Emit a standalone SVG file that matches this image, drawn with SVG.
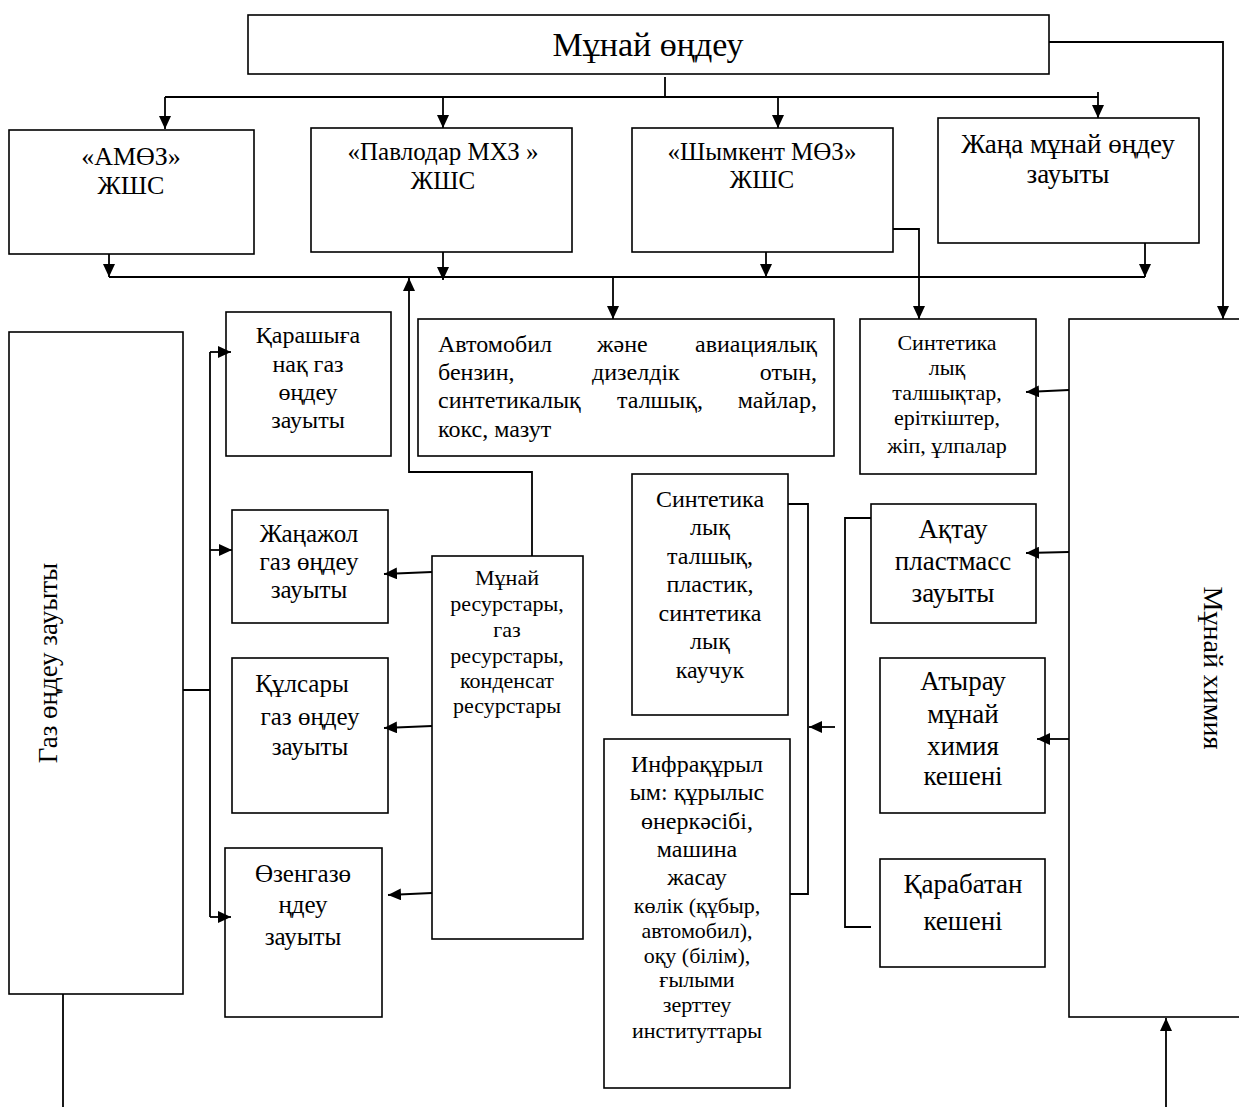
<svg xmlns="http://www.w3.org/2000/svg" width="1239" height="1107" viewBox="0 0 1239 1107">
<defs>
<marker id="ah" viewBox="0 0 13 12" refX="13" refY="6" markerWidth="13" markerHeight="12" markerUnits="userSpaceOnUse" orient="auto"><path d="M0,0 L13,6 L0,12 z" fill="#000"/></marker>
<style>
.box{fill:#fff;stroke:#000;stroke-width:1.6}
.ln{fill:none;stroke:#000;stroke-width:1.8}
.ar{fill:none;stroke:#000;stroke-width:1.8;marker-end:url(#ah)}
text{font-family:"Liberation Serif","Times New Roman",serif;fill:#000}
.c{text-anchor:middle}
.f24{font-size:24px}
.f25{font-size:25px}
.f22{font-size:22px}
.f26{font-size:26px}
.f27{font-size:27px}
</style>
</defs>
<rect width="1239" height="1107" fill="#fff"/>

<g id="n-top"><rect class="box" x="248" y="15" width="801" height="59"/>
<text class="c" x="648" y="56" font-size="34">Мұнай өңдеу</text></g>

<g id="n-amoz"><rect class="box" x="9" y="130" width="245" height="124"/>
<text class="c f26" x="131" y="165">«АМӨЗ»</text>
<text class="c f26" x="131" y="194">ЖШС</text></g>

<g id="n-pavlodar"><rect class="box" x="311" y="128" width="261" height="124"/>
<text class="c f25" x="443" y="160">«Павлодар МХЗ »</text>
<text class="c f25" x="443" y="189">ЖШС</text></g>

<g id="n-shymkent"><rect class="box" x="632" y="128" width="261" height="124"/>
<text class="c f25" x="762" y="160">«Шымкент МӨЗ»</text>
<text class="c f25" x="762" y="188">ЖШС</text></g>

<g id="n-zhana"><rect class="box" x="938" y="118" width="261" height="125"/>
<text class="c f27" x="1068" y="153">Жаңа мұнай өңдеу</text>
<text class="c f27" x="1068" y="183">зауыты</text></g>

<g id="n-avto"><rect class="box" x="418" y="319" width="416" height="137"/>
<text class="f24" x="438" y="352">Автомобил</text>
<text class="f24" x="597" y="352">және</text>
<text class="f24" x="817" y="352" text-anchor="end">авиациялық</text>
<text class="f24" x="438" y="380">бензин,</text>
<text class="f24" x="592" y="380">дизелдік</text>
<text class="f24" x="817" y="380" text-anchor="end">отын,</text>
<text class="f24" x="438" y="408">синтетикалық</text>
<text class="f24" x="617" y="408">талшық,</text>
<text class="f24" x="817" y="408" text-anchor="end">майлар,</text>
<text class="f24" x="438" y="437">кокс, мазут</text></g>

<g id="n-sint1"><rect class="box" x="860" y="319" width="176" height="155"/>
<text class="c f22" x="947" y="350">Синтетика</text>
<text class="c f22" x="947" y="375">лық</text>
<text class="c f22" x="947" y="400">талшықтар,</text>
<text class="c f22" x="947" y="425">еріткіштер,</text>
<text class="c f22" x="947" y="453">жіп, ұлпалар</text></g>

<g id="n-himiya"><rect class="box" x="1069" y="319" width="180" height="698"/>
<text class="c" font-size="28" transform="translate(1204,668) rotate(90)">Мұнай химия</text></g>

<g id="n-gaz"><rect class="box" x="9" y="332" width="174" height="662"/>
<text class="c f27" transform="translate(57,663) rotate(-90)">Газ өңдеу зауыты</text></g>

<g id="n-karash"><rect class="box" x="226" y="312" width="165" height="144"/>
<text class="c f24" x="308" y="343">Қарашыға</text>
<text class="c f24" x="308" y="372">нақ газ</text>
<text class="c f24" x="308" y="400">өңдеу</text>
<text class="c f24" x="308" y="428">зауыты</text></g>

<g id="n-zhanazhol"><rect class="box" x="232" y="510" width="156" height="113"/>
<text class="c f25" x="309" y="542">Жаңажол</text>
<text class="c f25" x="309" y="570">газ өңдеу</text>
<text class="c f25" x="309" y="598">зауыты</text></g>

<g id="n-kulsary"><rect class="box" x="232" y="658" width="156" height="155"/>
<text class="c f25" x="302" y="692">Құлсары</text>
<text class="c f25" x="310" y="725">газ өңдеу</text>
<text class="c f25" x="310" y="755">зауыты</text></g>

<g id="n-ozen"><rect class="box" x="225" y="848" width="157" height="169"/>
<text class="c f25" x="303" y="882">Өзенгазө</text>
<text class="c f25" x="303" y="913">ңдеу</text>
<text class="c f25" x="303" y="945">зауыты</text></g>

<g id="n-resurs"><rect class="box" x="432" y="556" width="151" height="383"/>
<text class="c f22" x="507" y="585">Мұнай</text>
<text class="c f22" x="507" y="611">ресурстары,</text>
<text class="c f22" x="507" y="637">газ</text>
<text class="c f22" x="507" y="663">ресурстары,</text>
<text class="c f22" x="507" y="688">конденсат</text>
<text class="c f22" x="507" y="713">ресурстары</text></g>

<g id="n-sint2"><rect class="box" x="632" y="474" width="156" height="241"/>
<text class="c f24" x="710" y="507">Синтетика</text>
<text class="c f24" x="710" y="535">лық</text>
<text class="c f24" x="710" y="564">талшық,</text>
<text class="c f24" x="710" y="592">пластик,</text>
<text class="c f24" x="710" y="621">синтетика</text>
<text class="c f24" x="710" y="649">лық</text>
<text class="c f24" x="710" y="678">каучук</text></g>

<g id="n-infra"><rect class="box" x="604" y="739" width="186" height="349"/>
<text class="c f24" x="697" y="772">Инфрақұрыл</text>
<text class="c f24" x="697" y="800">ым: құрылыс</text>
<text class="c f24" x="697" y="829">өнеркәсібі,</text>
<text class="c f24" x="697" y="857">машина</text>
<text class="c f24" x="697" y="885">жасау</text>
<text class="c f22" x="697" y="913">көлік (құбыр,</text>
<text class="c f22" x="697" y="938">автомобил),</text>
<text class="c f22" x="697" y="963">оқу (білім),</text>
<text class="c f22" x="697" y="987">ғылыми</text>
<text class="c f22" x="697" y="1012">зерттеу</text>
<text class="c f22" x="697" y="1038">институттары</text></g>

<g id="n-aktau"><rect class="box" x="871" y="504" width="165" height="119"/>
<text class="c f27" x="953" y="538">Ақтау</text>
<text class="c f27" x="953" y="570">пластмасс</text>
<text class="c f27" x="953" y="602">зауыты</text></g>

<g id="n-atyrau"><rect class="box" x="880" y="658" width="165" height="155"/>
<text class="c f27" x="963" y="690">Атырау</text>
<text class="c f27" x="963" y="723">мұнай</text>
<text class="c f27" x="963" y="755">химия</text>
<text class="c f27" x="963" y="785">кешені</text></g>

<g id="n-karabatan"><rect class="box" x="880" y="859" width="165" height="108"/>
<text class="c f27" x="963" y="893">Қарабатан</text>
<text class="c f27" x="963" y="930">кешені</text></g>

<g id="connectors">
<path class="ln" d="M665,77 V96"/>
<path class="ln" d="M165,97 H1098"/>
<path class="ar" d="M165,97 V129"/>
<path class="ar" d="M443,97 V128"/>
<path class="ar" d="M778,97 V128"/>
<path class="ar" d="M1098,92 V118"/>
<path class="ar" d="M1049,42 H1223 V319"/>
<path class="ln" d="M109,277 H1145"/>
<path class="ar" d="M109,254 V277"/>
<path class="ar" d="M443,252 V280"/>
<path class="ar" d="M766,252 V277"/>
<path class="ar" d="M1145,243 V277"/>
<path class="ar" d="M893,229 H919 V319"/>
<path class="ar" d="M613,277 V319"/>
<path class="ar" d="M532,556 V472 H409 V278"/>
<path class="ln" d="M183,690 H210 M210,352 V917"/>
<path class="ar" d="M210,352 H231"/>
<path class="ar" d="M210,550 H232"/>
<path class="ar" d="M210,917 H231"/>
<path class="ln" d="M63,994 V1107"/>
<path class="ar" d="M432,572 L384,574"/>
<path class="ar" d="M432,726 L384,728"/>
<path class="ar" d="M432,893 L388,895"/>
<path class="ar" d="M1069,390 L1026,392"/>
<path class="ar" d="M1069,552 L1026,553"/>
<path class="ar" d="M1069,739 L1037,739"/>
<path class="ln" d="M871,518 H845 V927 H871"/>
<path class="ar" d="M835,727 H809"/>
<path class="ln" d="M788,504 H808 V894 H790"/>
<path class="ar" d="M1166,1107 V1018"/>
</g>
</svg>
